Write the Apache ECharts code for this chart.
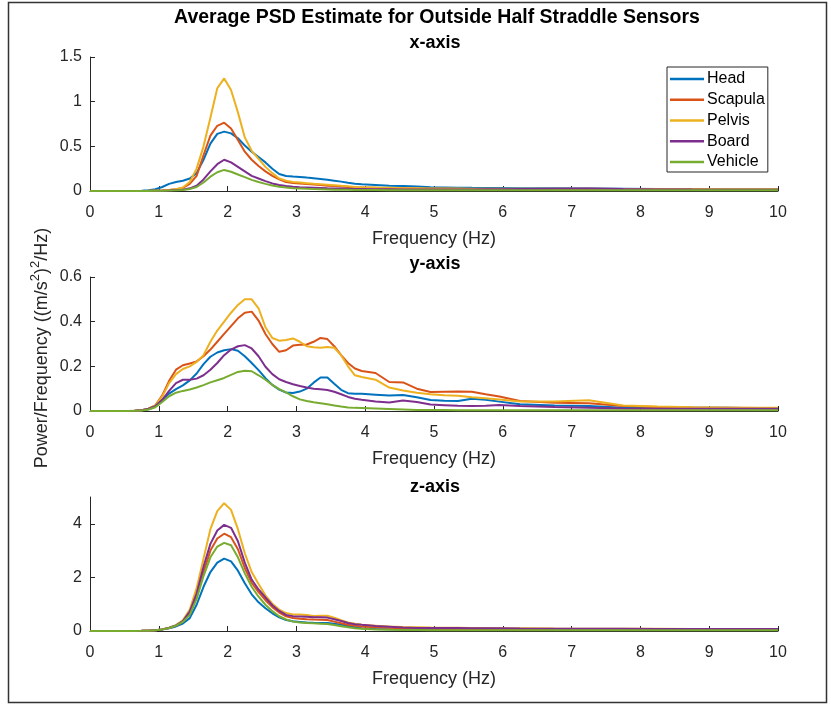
<!DOCTYPE html>
<html>
<head>
<meta charset="utf-8">
<script src="https://cdn.jsdelivr.net/npm/echarts@6/dist/echarts.min.js"></script>
<style>
  html, body { margin: 0; padding: 0; background: #fff; }
  #chart { width: 831px; height: 704px; }
</style>
</head>
<body>
<div id="chart"></div>
<script>
// frequency grid (Hz)
const freq = [0, 0.45, 0.55, 0.65, 0.75, 0.85, 0.95, 1.05, 1.15, 1.25, 1.35, 1.45, 1.55, 1.65, 1.75, 1.85, 1.95,
  2.05, 2.15, 2.25, 2.35, 2.45, 2.55, 2.65, 2.75, 2.85, 2.95, 3.05, 3.15, 3.25, 3.35, 3.45, 3.55, 3.65, 3.75, 3.85, 3.95,
  4.15, 4.35, 4.55, 4.75, 4.95, 5.15, 5.35, 5.55, 5.75, 5.95, 6.25, 6.75, 7.25, 7.75, 8.25, 8.75, 9.25, 9.75, 10];

const sensors = ['Head', 'Scapula', 'Pelvis', 'Board', 'Vehicle'];
const colors = ['#0072BD', '#D95319', '#EDB120', '#7E2F8E', '#77AC30'];

// x-axis PSD
const headX = [0, 0, 0, 0.001, 0.003, 0.008, 0.02, 0.045, 0.08, 0.1, 0.115, 0.14, 0.2, 0.35, 0.53, 0.64, 0.665,
  0.645, 0.59, 0.51, 0.44, 0.38, 0.32, 0.25, 0.19, 0.168, 0.162, 0.158, 0.15, 0.143, 0.135, 0.125, 0.115, 0.105, 0.093, 0.082, 0.075,
  0.068, 0.06, 0.055, 0.05, 0.042, 0.04, 0.037, 0.035, 0.034, 0.034, 0.032, 0.03, 0.028, 0.025, 0.022, 0.021, 0.02, 0.02, 0.02];
const scapulaX = [0, 0, 0, 0, 0.001, 0.002, 0.004, 0.007, 0.012, 0.02, 0.035, 0.08, 0.17, 0.4, 0.62, 0.73, 0.765,
  0.7, 0.57, 0.44, 0.35, 0.28, 0.22, 0.17, 0.13, 0.1, 0.09, 0.085, 0.078, 0.072, 0.066, 0.06, 0.055, 0.05, 0.045, 0.042, 0.04,
  0.036, 0.032, 0.03, 0.027, 0.025, 0.024, 0.023, 0.022, 0.022, 0.021, 0.02, 0.02, 0.02, 0.018, 0.017, 0.016, 0.015, 0.015, 0.015];
const pelvisX = [0, 0, 0, 0, 0.001, 0.002, 0.004, 0.007, 0.012, 0.02, 0.04, 0.1, 0.25, 0.5, 0.82, 1.15, 1.26,
  1.13, 0.88, 0.6, 0.45, 0.36, 0.27, 0.2, 0.14, 0.115, 0.1, 0.095, 0.088, 0.08, 0.075, 0.07, 0.065, 0.058, 0.052, 0.046, 0.042,
  0.038, 0.035, 0.032, 0.03, 0.028, 0.027, 0.027, 0.026, 0.026, 0.025, 0.025, 0.025, 0.024, 0.022, 0.02, 0.02, 0.02, 0.02, 0.02];
const boardX = [0, 0, 0, 0, 0, 0.001, 0.002, 0.004, 0.006, 0.01, 0.015, 0.03, 0.06, 0.13, 0.22, 0.3, 0.35,
  0.32, 0.27, 0.22, 0.17, 0.14, 0.11, 0.085, 0.068, 0.055, 0.048, 0.043, 0.04, 0.037, 0.034, 0.031, 0.029, 0.027, 0.025, 0.023, 0.022,
  0.02, 0.019, 0.018, 0.018, 0.018, 0.018, 0.018, 0.018, 0.02, 0.02, 0.022, 0.025, 0.027, 0.022, 0.018, 0.016, 0.015, 0.015, 0.015];
const vehicleX = [0, 0, 0, 0, 0, 0.001, 0.002, 0.003, 0.005, 0.008, 0.012, 0.022, 0.045, 0.095, 0.16, 0.21, 0.236,
  0.215, 0.185, 0.155, 0.125, 0.1, 0.08, 0.062, 0.048, 0.038, 0.032, 0.028, 0.024, 0.021, 0.019, 0.017, 0.015, 0.014, 0.013, 0.012, 0.011,
  0.01, 0.009, 0.009, 0.008, 0.008, 0.008, 0.008, 0.008, 0.008, 0.008, 0.008, 0.008, 0.008, 0.008, 0.007, 0.007, 0.007, 0.007, 0.007];

// y-axis PSD
const headY = [0, 0, 0, 0.001, 0.003, 0.008, 0.02, 0.048, 0.078, 0.098, 0.115, 0.137, 0.168, 0.21, 0.243, 0.262, 0.272,
  0.277, 0.27, 0.245, 0.215, 0.183, 0.147, 0.117, 0.096, 0.083, 0.081, 0.087, 0.1, 0.127, 0.15, 0.15, 0.122, 0.095, 0.08, 0.077, 0.077,
  0.073, 0.069, 0.072, 0.062, 0.049, 0.046, 0.045, 0.055, 0.05, 0.042, 0.03, 0.025, 0.022, 0.015, 0.013, 0.014, 0.014, 0.012, 0.012];
const scapulaY = [0, 0, 0, 0.001, 0.003, 0.01, 0.025, 0.07, 0.135, 0.185, 0.205, 0.213, 0.222, 0.245, 0.275, 0.31, 0.345,
  0.38, 0.415, 0.44, 0.445, 0.405, 0.345, 0.3, 0.265, 0.272, 0.293, 0.297, 0.298, 0.31, 0.327, 0.322, 0.29, 0.25, 0.215, 0.19, 0.179,
  0.17, 0.13, 0.128, 0.1, 0.085, 0.086, 0.087, 0.086, 0.075, 0.065, 0.045, 0.037, 0.035, 0.022, 0.018, 0.016, 0.015, 0.013, 0.012];
const pelvisY = [0, 0, 0, 0.001, 0.003, 0.01, 0.025, 0.065, 0.125, 0.165, 0.188, 0.2, 0.22, 0.25, 0.31, 0.36, 0.4,
  0.44, 0.475, 0.5, 0.5, 0.46, 0.375, 0.327, 0.315, 0.318, 0.325, 0.31, 0.29, 0.285, 0.283, 0.287, 0.283, 0.25, 0.2, 0.16, 0.152,
  0.14, 0.105, 0.092, 0.082, 0.075, 0.071, 0.068, 0.062, 0.057, 0.051, 0.042, 0.042, 0.048, 0.025, 0.02, 0.017, 0.015, 0.015, 0.015];
const boardY = [0, 0, 0, 0.001, 0.003, 0.01, 0.022, 0.05, 0.09, 0.125, 0.14, 0.14, 0.145, 0.16, 0.185, 0.215, 0.25,
  0.275, 0.29, 0.295, 0.28, 0.245, 0.198, 0.165, 0.142, 0.13, 0.12, 0.112, 0.105, 0.1, 0.097, 0.094, 0.086, 0.075, 0.063, 0.055, 0.05,
  0.043, 0.038, 0.047, 0.04, 0.029, 0.026, 0.023, 0.022, 0.024, 0.027, 0.022, 0.018, 0.015, 0.011, 0.01, 0.01, 0.01, 0.01, 0.01];
const vehicleY = [0, 0, 0, 0.001, 0.002, 0.007, 0.017, 0.04, 0.066, 0.082, 0.09, 0.096, 0.105, 0.116, 0.128, 0.138, 0.148,
  0.162, 0.175, 0.18, 0.178, 0.16, 0.14, 0.117, 0.098, 0.083, 0.066, 0.052, 0.045, 0.039, 0.035, 0.03, 0.025, 0.02, 0.016, 0.014, 0.013,
  0.011, 0.009, 0.007, 0.005, 0.004, 0.004, 0.003, 0.003, 0.003, 0.003, 0.003, 0.003, 0.003, 0.003, 0.003, 0.003, 0.003, 0.003, 0.003];

// z-axis PSD
const headZ = [0, 0, 0, 0.002, 0.005, 0.01, 0.03, 0.055, 0.1, 0.17, 0.28, 0.48, 0.98, 1.65, 2.2, 2.55, 2.7,
  2.6, 2.25, 1.78, 1.37, 1.07, 0.85, 0.66, 0.51, 0.41, 0.36, 0.34, 0.32, 0.305, 0.3, 0.295, 0.27, 0.23, 0.185, 0.14, 0.105,
  0.075, 0.062, 0.056, 0.052, 0.05, 0.048, 0.047, 0.046, 0.045, 0.045, 0.043, 0.042, 0.04, 0.04, 0.04, 0.04, 0.04, 0.04, 0.04];
const scapulaZ = [0, 0, 0, 0.002, 0.005, 0.01, 0.03, 0.06, 0.11, 0.2, 0.35, 0.65, 1.3, 2.2, 3.0, 3.45, 3.63,
  3.5, 3.05, 2.35, 1.8, 1.45, 1.15, 0.89, 0.69, 0.55, 0.485, 0.46, 0.44, 0.425, 0.42, 0.41, 0.35, 0.29, 0.235, 0.195, 0.17,
  0.14, 0.12, 0.1, 0.085, 0.08, 0.075, 0.07, 0.07, 0.065, 0.065, 0.06, 0.055, 0.055, 0.05, 0.05, 0.05, 0.05, 0.05, 0.05];
const pelvisZ = [0, 0, 0, 0.002, 0.005, 0.01, 0.03, 0.06, 0.12, 0.22, 0.4, 0.8, 1.6, 2.7, 3.8, 4.47, 4.77,
  4.52, 3.8, 2.9, 2.2, 1.75, 1.33, 1.02, 0.8, 0.67, 0.62, 0.62, 0.6, 0.56, 0.57, 0.57, 0.5, 0.4, 0.32, 0.27, 0.23,
  0.2, 0.17, 0.15, 0.14, 0.13, 0.125, 0.12, 0.115, 0.11, 0.105, 0.1, 0.09, 0.085, 0.08, 0.08, 0.075, 0.07, 0.07, 0.07];
const boardZ = [0, 0, 0, 0.002, 0.005, 0.01, 0.03, 0.06, 0.12, 0.21, 0.37, 0.72, 1.4, 2.4, 3.25, 3.75, 3.96,
  3.85, 3.35, 2.55, 1.92, 1.55, 1.25, 0.96, 0.75, 0.6, 0.555, 0.545, 0.53, 0.515, 0.51, 0.5, 0.44, 0.37, 0.3, 0.255, 0.23,
  0.19, 0.16, 0.13, 0.115, 0.11, 0.11, 0.11, 0.105, 0.1, 0.1, 0.09, 0.085, 0.08, 0.08, 0.075, 0.07, 0.07, 0.07, 0.07];
const vehicleZ = [0, 0, 0, 0.002, 0.005, 0.01, 0.03, 0.06, 0.11, 0.2, 0.34, 0.6, 1.2, 2.05, 2.75, 3.15, 3.29,
  3.2, 2.75, 2.15, 1.65, 1.28, 0.98, 0.74, 0.55, 0.43, 0.35, 0.32, 0.3, 0.285, 0.275, 0.26, 0.22, 0.18, 0.14, 0.105, 0.08,
  0.06, 0.045, 0.04, 0.035, 0.03, 0.03, 0.03, 0.03, 0.03, 0.03, 0.03, 0.03, 0.03, 0.03, 0.03, 0.03, 0.03, 0.03, 0.03];

const panels = [
  { title: 'x-axis', top: 57, titleY: 43, max: 1.5, interval: 0.5, ticks: [0, 0.5, 1, 1.5], data: [headX, scapulaX, pelvisX, boardX, vehicleX] },
  { title: 'y-axis', top: 277, titleY: 264, max: 0.6, interval: 0.2, ticks: [0, 0.2, 0.4, 0.6], data: [headY, scapulaY, pelvisY, boardY, vehicleY] },
  { title: 'z-axis', top: 497, titleY: 487, max: 5, interval: 1, ticks: [0, 2, 4], data: [headZ, scapulaZ, pelvisZ, boardZ, vehicleZ] }
];
const xTicks = [0, 1, 2, 3, 4, 5, 6, 7, 8, 9, 10];

const FONT = 'Liberation Sans, Arial, sans-serif';
const INK = '#262626';

const grid = [], xAxis = [], yAxis = [], series = [], graphic = [];

panels.forEach((p, i) => {
  grid.push({ left: 90, top: p.top, width: 688, height: 134 });
  xAxis.push({
    type: 'value', gridIndex: i, min: 0, max: 10, interval: 1,
    name: 'Frequency (Hz)', nameLocation: 'middle', nameGap: 39,
    nameTextStyle: { color: INK, fontSize: 18, fontFamily: FONT },
    axisLine: { lineStyle: { color: INK, width: 1 } },
    axisTick: { inside: true, length: 5, lineStyle: { color: INK } },
    axisLabel: { color: INK, fontSize: 16, fontFamily: FONT, margin: 14, customValues: xTicks },
    splitLine: { show: false }
  });
  yAxis.push({
    type: 'value', gridIndex: i, min: 0, max: p.max, interval: p.interval,
    axisLine: { show: true, lineStyle: { color: INK, width: 1 } },
    axisTick: { show: true, inside: true, length: 5, lineStyle: { color: INK }, customValues: p.ticks },
    axisLabel: { color: INK, fontSize: 16, fontFamily: FONT, margin: 8, customValues: p.ticks },
    splitLine: { show: false }
  });
  sensors.forEach((name, k) => {
    series.push({
      name: name, type: 'line', xAxisIndex: i, yAxisIndex: i,
      data: freq.map((f, j) => [f, p.data[k][j]]),
      showSymbol: false, symbol: 'none', smooth: false,
      lineStyle: { color: colors[k], width: 2 },
      itemStyle: { color: colors[k] },
      z: 2 + k
    });
  });
  // panel subtitle
  graphic.push({
    type: 'text', x: 435, y: p.titleY,
    style: { text: p.title, font: 'bold 18px ' + FONT, fill: '#000', align: 'center', verticalAlign: 'middle' }
  });
});

graphic.push(
  {
    type: 'text', x: 437, y: 18,
    style: { text: 'Average PSD Estimate for Outside Half Straddle Sensors', font: 'bold 19.5px ' + FONT, fill: '#000', align: 'center', verticalAlign: 'middle' }
  },
  {
    type: 'text', x: 42, y: 348, rotation: Math.PI / 2,
    style: {
      text: 'Power/Frequency ((m/s{sup|2}){sup|2}/Hz)',
      font: '18px ' + FONT, fill: INK, align: 'center', verticalAlign: 'middle',
      lineHeight: 26,
      rich: {
        sup: { fontSize: 13, fontFamily: FONT, fill: INK, verticalAlign: 'top', lineHeight: 13 }
      }
    }
  },
  {
    type: 'rect', shape: { x: 8.5, y: 2.5, width: 818, height: 700 },
    style: { fill: 'none', stroke: '#333', lineWidth: 1.5 }, silent: true
  }
);

const chart = echarts.init(document.getElementById('chart'), null, { renderer: 'canvas' });
chart.setOption({
  animation: false,
  backgroundColor: '#fff',
  grid: grid,
  xAxis: xAxis,
  yAxis: yAxis,
  series: series,
  graphic: graphic,
  legend: {
    data: sensors, orient: 'vertical', left: 667, top: 67,
    icon: 'rect', itemWidth: 34, itemHeight: 2.5, itemGap: 4.75,
    padding: [4, 3, 2, 3],
    borderColor: INK, borderWidth: 1, backgroundColor: '#fff',
    textStyle: { color: '#000', fontSize: 16, fontFamily: FONT, padding: [0, 0, 0, -2] }
  }
});
</script>
</body>
</html>
